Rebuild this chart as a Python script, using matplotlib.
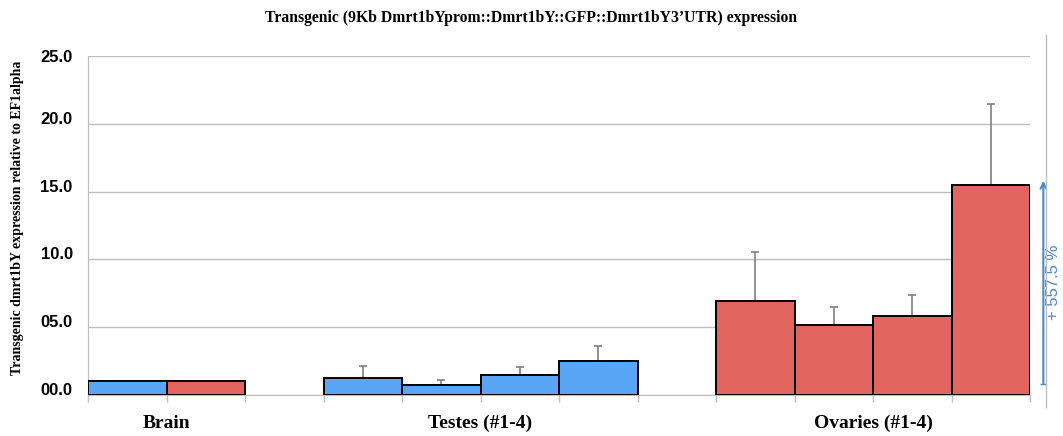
import numpy as np
import matplotlib
matplotlib.use('Agg')
import matplotlib.pyplot as plt
from matplotlib.transforms import ScaledTranslation, blended_transform_factory
from matplotlib.lines import Line2D

# values
groups = ['Brain', 'Testes (#1-4)', 'Ovaries (#1-4)']
brain_vals = [1.0, 1.0]
brain_colors = ['blue', 'red']
testes_vals = [1.27, 0.76, 1.47, 2.48]
testes_err = [0.89, 0.32, 0.61, 1.10]
ovary_vals = [6.91, 5.17, 5.81, 15.49]
ovary_err = [3.60, 1.35, 1.59, 5.98]
y_ticks = [0, 5, 10, 15, 20, 25]
y_labels = ['00.0', '05.0', '10.0', '15.0', '20.0', '25.0']
change_label = '+ 557.5 %'

blue = '#5AA6F6'
red = '#E2665F'
grey = '#BDBDBD'
serif = 'Liberation Serif'
sans = 'Liberation Sans'

fig = plt.figure(figsize=(10.63, 4.36), dpi=100)
ax = fig.add_axes([88 / 1063, 41 / 436, 942 / 1063, 339 / 436])

# slot layout: brain 0-1, gap, testes 3-6, gap, ovaries 8-11
brain_x = np.arange(2) + 0.5
testes_x = np.arange(4) + 3.5
ovary_x = np.arange(4) + 8.5

ax.bar(brain_x, brain_vals, width=1.0, color=[blue if c == 'blue' else red for c in brain_colors],
       edgecolor='black', linewidth=1.4, zorder=3)
ax.bar(testes_x, testes_vals, width=1.0, color=blue, edgecolor='black', linewidth=1.4, zorder=3)
ax.bar(ovary_x, ovary_vals, width=1.0, color=red, edgecolor='black', linewidth=1.4, zorder=3)

for xs, vals, errs in [(testes_x, testes_vals, testes_err), (ovary_x, ovary_vals, ovary_err)]:
    ax.errorbar(xs, vals, yerr=[np.zeros(len(errs)), errs], fmt='none', ecolor='#7F7F7F',
                elinewidth=1.2, capsize=3, capthick=1.2, zorder=2)

ax.set_xlim(0, 12)
ax.set_ylim(0, 25)
ax.set_yticks(y_ticks)
ax.set_yticklabels(y_labels, fontfamily=sans, fontweight='bold', fontsize=12)
ax.set_xticks([0, 1, 2, 3, 4, 5, 6, 7, 8, 9, 10, 11, 12])
ax.set_xticklabels([])
ax.tick_params(axis='x', length=5, color=grey, width=1)
ax.tick_params(axis='y', length=0, pad=11)
ax.grid(axis='y', color=grey, linewidth=1, zorder=0)
ax.set_axisbelow(True)

for s in ['top', 'right']:
    ax.spines[s].set_visible(False)
ax.spines['left'].set_color(grey)
ax.spines['bottom'].set_color(grey)

# tick labels in the original sit a little above their gridlines
for lab in ax.get_yticklabels()[:-1]:
    lab.set_transform(lab.get_transform() + ScaledTranslation(0, 0.06, fig.dpi_scale_trans))

trans = blended_transform_factory(ax.transData, ax.transAxes)
for xc, g in zip([1, 5, 10], groups):
    ax.text(xc, -0.083, g, transform=trans, ha='center', va='center',
            fontfamily=serif, fontweight='bold', fontsize=14)

fig.text(531 / 1063, 1 - 18 / 436, 'Transgenic (9Kb Dmrt1bYprom::Dmrt1bY::GFP::Dmrt1bY3\u2019UTR) expression',
         ha='center', va='center', fontfamily=serif, fontweight='bold', fontsize=11.3)
fig.text(18 / 1063, 1 - 218 / 436, 'Transgenic dmrt1bY expression relative to EF1alpha',
         ha='center', va='center', rotation=90, fontfamily=serif, fontweight='bold', fontsize=10)

# right-hand annotation
fig.add_artist(Line2D([1046 / 1063, 1046 / 1063], [1 - 407 / 436, 1 - 35 / 436], color=grey, linewidth=1))
ax.annotate('', xy=(12.17, 15.8), xytext=(12.17, 0.8), annotation_clip=False,
            arrowprops=dict(arrowstyle='->', color='#4A88CC', linewidth=1.5, shrinkA=0, shrinkB=0))
ax.plot([12.17], [0.8], marker='_', color='#4A88CC', markersize=5, clip_on=False)
ax.text(12.3, 8.3, change_label, rotation=90, ha='center', va='center', color='#4A88CC',
        fontfamily=sans, fontsize=12, clip_on=False)

fig.savefig('out.png', dpi=100)
